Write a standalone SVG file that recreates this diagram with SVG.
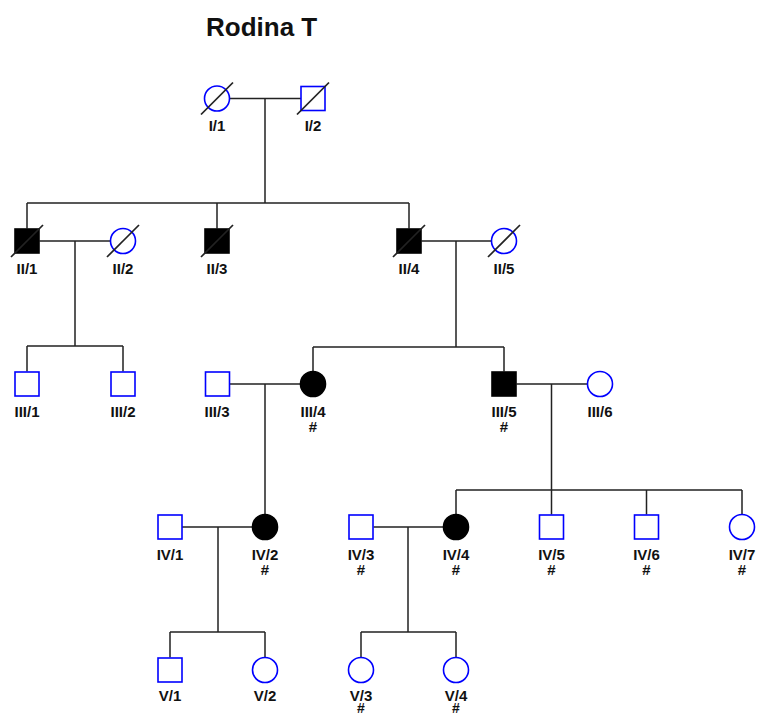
<svg xmlns="http://www.w3.org/2000/svg" width="757" height="716" viewBox="0 0 757 716">
<style>
.ln{stroke:#222;stroke-width:1.5;fill:none}
.u{fill:#fff;stroke:#0000ff;stroke-width:1.6}
.a{fill:#000;stroke:#000;stroke-width:1.6}
.d{stroke:#222;stroke-width:1.7}
.lb{font-family:"Liberation Sans",Arial,sans-serif;font-weight:bold;font-size:15px;fill:#111;text-anchor:middle}
.sm{font-size:14px}
.title{font-family:"Liberation Sans",Arial,sans-serif;font-weight:bold;font-size:26px;fill:#111}
</style>
<rect width="757" height="716" fill="#fff"/>
<text class="title" x="206" y="36">Rodina T</text>
<g id="connectors">
<path class="ln" d="M229.5,98.5H301M265,98.5V203M27,203H409M27,203V228.5M217,203V228.5M409,203V228.5"/>
<path class="ln" d="M39.5,241H110.5M75,241V346M27,346H123M27,346V371.5M123,346V371.5"/>
<path class="ln" d="M421.5,241H491.5M456,241V347M313,347H504M313,347V371.5M504,347V371.5"/>
<path class="ln" d="M230,384H300.5M265,384V514.5"/>
<path class="ln" d="M516.5,384H587.5M551.5,384V490M456,490H742M456,490V514.5M551.5,490V514.5M646.5,490V514.5M742,490V514.5"/>
<path class="ln" d="M182,527H252.5M218,527V632M170,632H265M170,632V657.5M265,632V657.5"/>
<path class="ln" d="M373.5,527H443.5M408,527V632M361,632H456M361,632V657.5M456,632V657.5"/>
</g>
<g id="I-1"><circle class="u" cx="217" cy="98.5" r="12.5"/><line class="d" x1="201" y1="114.5" x2="233" y2="82.5"/><text class="lb" x="217" y="131">I/1</text></g>
<g id="I-2"><rect class="u" x="301" y="86.5" width="24" height="24"/><line class="d" x1="297" y1="114.5" x2="329" y2="82.5"/><text class="lb" x="313" y="131">I/2</text></g>
<g id="II-1"><rect class="a" x="15" y="229" width="24" height="24"/><line class="d" x1="11" y1="257" x2="43" y2="225"/><text class="lb" x="27" y="273.5">II/1</text></g>
<g id="II-2"><circle class="u" cx="123" cy="241" r="12.5"/><line class="d" x1="107" y1="257" x2="139" y2="225"/><text class="lb" x="123" y="273.5">II/2</text></g>
<g id="II-3"><rect class="a" x="205" y="229" width="24" height="24"/><line class="d" x1="201" y1="257" x2="233" y2="225"/><text class="lb" x="217" y="273.5">II/3</text></g>
<g id="II-4"><rect class="a" x="397" y="229" width="24" height="24"/><line class="d" x1="393" y1="257" x2="425" y2="225"/><text class="lb" x="409" y="273.5">II/4</text></g>
<g id="II-5"><circle class="u" cx="504" cy="241" r="12.5"/><line class="d" x1="488" y1="257" x2="520" y2="225"/><text class="lb" x="504" y="273.5">II/5</text></g>
<g id="III-1"><rect class="u" x="15" y="372" width="24" height="24"/><text class="lb" x="27" y="416.5">III/1</text></g>
<g id="III-2"><rect class="u" x="111" y="372" width="24" height="24"/><text class="lb" x="123" y="416.5">III/2</text></g>
<g id="III-3"><rect class="u" x="205.5" y="372" width="24" height="24"/><text class="lb" x="217" y="416.5">III/3</text></g>
<g id="III-4"><circle class="a" cx="313" cy="384" r="12.5"/><text class="lb" x="313" y="416.5">III/4</text><text class="lb" x="313" y="432">#</text></g>
<g id="III-5"><rect class="a" x="492" y="372" width="24" height="24"/><text class="lb" x="504" y="416.5">III/5</text><text class="lb" x="504" y="432">#</text></g>
<g id="III-6"><circle class="u" cx="600" cy="384" r="12.5"/><text class="lb" x="600" y="416.5">III/6</text></g>
<g id="IV-1"><rect class="u" x="158" y="515" width="24" height="24"/><text class="lb" x="170" y="559.5">IV/1</text></g>
<g id="IV-2"><circle class="a" cx="265" cy="527" r="12.5"/><text class="lb" x="265" y="559.5">IV/2</text><text class="lb" x="265" y="575">#</text></g>
<g id="IV-3"><rect class="u" x="349" y="515" width="24" height="24"/><text class="lb" x="361" y="559.5">IV/3</text><text class="lb" x="361" y="575">#</text></g>
<g id="IV-4"><circle class="a" cx="456" cy="527" r="12.5"/><text class="lb" x="456" y="559.5">IV/4</text><text class="lb" x="456" y="575">#</text></g>
<g id="IV-5"><rect class="u" x="539.5" y="515" width="24" height="24"/><text class="lb" x="551.5" y="559.5">IV/5</text><text class="lb" x="551.5" y="575">#</text></g>
<g id="IV-6"><rect class="u" x="634.5" y="515" width="24" height="24"/><text class="lb" x="646.5" y="559.5">IV/6</text><text class="lb" x="646.5" y="575">#</text></g>
<g id="IV-7"><circle class="u" cx="742" cy="527" r="12.5"/><text class="lb" x="742" y="559.5">IV/7</text><text class="lb" x="742" y="575">#</text></g>
<g id="V-1"><rect class="u" x="158" y="658" width="24" height="24"/><text class="lb" x="170" y="700.5">V/1</text></g>
<g id="V-2"><circle class="u" cx="265" cy="670" r="12.5"/><text class="lb" x="265" y="700.5">V/2</text></g>
<g id="V-3"><circle class="u" cx="361" cy="670" r="12.5"/><text class="lb" x="361" y="700.5">V/3</text><text class="lb sm" x="361" y="713">#</text></g>
<g id="V-4"><circle class="u" cx="456" cy="670" r="12.5"/><text class="lb" x="456" y="700.5">V/4</text><text class="lb sm" x="456" y="713">#</text></g>
</svg>
